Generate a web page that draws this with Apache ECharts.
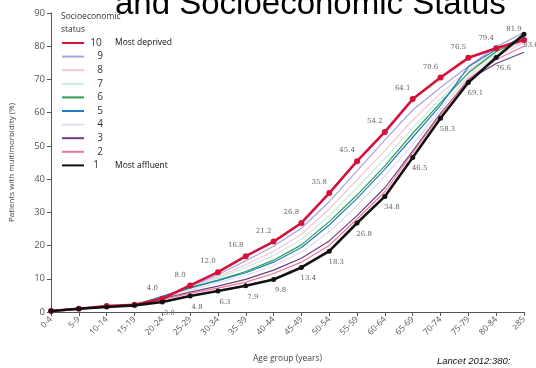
<!DOCTYPE html>
<html>
<head>
<meta charset="utf-8">
<script src="https://cdn.jsdelivr.net/npm/echarts@6/dist/echarts.min.js"></script>
<style>
  html, body { margin: 0; padding: 0; background: #fff; }
  #chart { width: 536px; height: 368px; }
</style>
</head>
<body>
<div id="chart"></div>
<script>
const ageGroups = ['0-4', '5-9', '10-14', '15-19', '20-24', '25-29', '30-34', '35-39', '40-44',
  '45-49', '50-54', '55-59', '60-64', '65-69', '70-74', '75-79', '80-84', '≥85']

// socioeconomic status deciles, 10 = most deprived, 1 = most affluent
const ses10 = [0.3, 1.0, 1.8, 2.2, 4.0, 8.0, 12.0, 16.8, 21.2, 26.8, 35.8, 45.4, 54.2, 64.1, 70.6, 76.5, 79.4, 81.9]
const ses9 = [0.3, 1.0, 1.6, 2.1, 4.5, 7.6, 11.2, 15.4, 19.8, 25.2, 33.2, 42.5, 51.8, 60.8, 67.6, 74.0, 79.8, 84.2]
const ses8 = [0.3, 1.0, 1.6, 2.1, 4.6, 7.4, 10.6, 14.2, 18.2, 23.4, 31.0, 39.8, 48.6, 57.8, 65.8, 72.8, 78.4, 81.2]
const ses7 = [0.3, 1.0, 1.6, 2.1, 4.8, 7.3, 10.2, 13.4, 17.0, 21.8, 29.0, 37.4, 46.2, 55.4, 64.2, 71.8, 77.8, 82.0]
const ses6 = [0.3, 1.0, 1.5, 2.0, 4.6, 7.2, 9.6, 12.2, 15.6, 20.2, 27.2, 35.2, 44.0, 53.8, 63.0, 72.0, 78.4, 82.4]
const ses5 = [0.3, 1.0, 1.5, 2.0, 4.7, 7.4, 9.4, 11.8, 15.0, 19.4, 26.2, 34.2, 43.0, 52.6, 62.2, 73.8, 79.0, 82.8]
const ses4 = [0.3, 1.0, 1.5, 2.0, 4.2, 6.6, 8.8, 11.0, 14.0, 18.0, 24.2, 32.0, 41.0, 50.4, 61.0, 71.0, 77.0, 81.0]
const ses3 = [0.3, 1.0, 1.5, 2.0, 4.0, 6.0, 7.8, 9.8, 12.6, 16.2, 21.4, 29.0, 37.4, 48.4, 59.8, 69.8, 74.8, 78.2]
const ses2 = [0.3, 1.0, 1.5, 2.0, 3.8, 5.6, 7.2, 9.0, 11.6, 15.0, 20.0, 28.0, 36.2, 48.0, 59.4, 70.2, 76.0, 80.0]
const ses1 = [0.3, 1.0, 1.5, 2.0, 3.0, 4.8, 6.3, 7.9, 9.8, 13.4, 18.3, 26.8, 34.8, 46.5, 58.3, 69.1, 76.6, 83.6]

const yTicks = { min: 0, max: 90, interval: 10 }

const chart = echarts.init(document.getElementById('chart'))

const thin = (name, data, color) => ({
  name,
  type: 'line',
  data,
  symbol: 'none',
  lineStyle: { color, width: 1.2 },
  itemStyle: { color },
  z: 2,
})

const labelFmt = (p) => (p.dataIndex >= 4 ? p.value.toFixed(1) : '')

chart.setOption({
  animation: false,
  backgroundColor: '#fff',
  title: [
    {
      text: 'and Socioeconomic Status',
      left: 110,
      top: -17,
      textStyle: { fontFamily: 'Liberation Sans', fontSize: 33, fontWeight: 'normal', color: '#000' },
    },
    {
      text: 'Socioeconomic\nstatus',
      left: 56,
      top: 5,
      textStyle: { fontFamily: 'Open Sans', fontSize: 8.5, fontWeight: 'normal', color: '#333', lineHeight: 13 },
    },
    {
      text: 'Lancet 2012:380:',
      left: 432,
      top: 351,
      textStyle: { fontFamily: 'Liberation Sans', fontSize: 9.5, fontStyle: 'italic', fontWeight: 'normal', color: '#111' },
    },
  ],
  legend: {
    orient: 'vertical',
    left: 56,
    top: 33,
    itemWidth: 22,
    itemHeight: 9,
    itemGap: 3.6,
    itemStyle: { opacity: 0 },
    textStyle: {
      fontFamily: 'Open Sans',
      fontSize: 9,
      color: '#333',
      rich: {
        n: { width: 14, align: 'right', fontSize: 10, color: '#333' },
        d: { padding: [0, 0, 0, 12], fontSize: 8.5, color: '#111' },
      },
    },
    formatter: (name) => {
      if (name === '10') return '{n|10}{d|Most deprived}'
      if (name === '1') return '{n|1}{d|Most affluent}'
      return '{n|' + name + '}'
    },
    data: ['10', '9', '8', '7', '6', '5', '4', '3', '2', '1'],
  },
  grid: { left: 49, right: 12, top: 13, bottom: 56 },
  xAxis: {
    type: 'category',
    data: ageGroups,
    boundaryGap: false,
    name: 'Age group (years)',
    nameLocation: 'middle',
    nameGap: 42,
    nameTextStyle: { fontFamily: 'Open Sans', fontSize: 8.5, color: '#444' },
    axisLine: { lineStyle: { color: '#555', width: 1 } },
    axisTick: { show: true, length: 4, lineStyle: { color: '#555' } },
    axisLabel: { rotate: 45, fontFamily: 'Open Sans', fontSize: 8.5, color: '#555', margin: 6 },
  },
  yAxis: {
    type: 'value',
    ...yTicks,
    name: 'Patients with multimorbidity (%)',
    nameLocation: 'middle',
    nameGap: 35,
    nameTextStyle: { fontFamily: 'Open Sans', fontSize: 8, color: '#444' },
    axisLine: { show: true, lineStyle: { color: '#555', width: 1 } },
    axisTick: { show: true, length: 4, lineStyle: { color: '#555' } },
    axisLabel: { fontFamily: 'Open Sans', fontSize: 9.5, color: '#555', margin: 6 },
    splitLine: { show: false },
  },
  series: [
    {
      name: '10',
      type: 'line',
      data: ses10,
      symbol: 'circle',
      symbolSize: 6,
      lineStyle: { color: '#d3123c', width: 2.6 },
      itemStyle: { color: '#d3123c' },
      label: {
        show: true,
        position: 'top',
        offset: [-10, 1],
        formatter: labelFmt,
        fontFamily: 'DejaVu Serif',
        fontSize: 7,
        color: '#666',
      },
      z: 5,
    },
    thin('9', ses9, '#a4a4de'),
    thin('8', ses8, '#f5c6d0'),
    thin('7', ses7, '#c4ece2'),
    thin('6', ses6, '#2e9c52'),
    thin('5', ses5, '#1f7cc4'),
    thin('4', ses4, '#dcdcef'),
    thin('3', ses3, '#6e3c86'),
    thin('2', ses2, '#f27492'),
    {
      name: '1',
      type: 'line',
      data: ses1,
      symbol: 'circle',
      symbolSize: 5,
      lineStyle: { color: '#111', width: 2.6 },
      itemStyle: { color: '#111' },
      label: {
        show: true,
        position: 'bottom',
        offset: [7, 0],
        formatter: labelFmt,
        fontFamily: 'DejaVu Serif',
        fontSize: 7,
        color: '#666',
      },
      z: 6,
    },
  ],
})
</script>
</body>
</html>
